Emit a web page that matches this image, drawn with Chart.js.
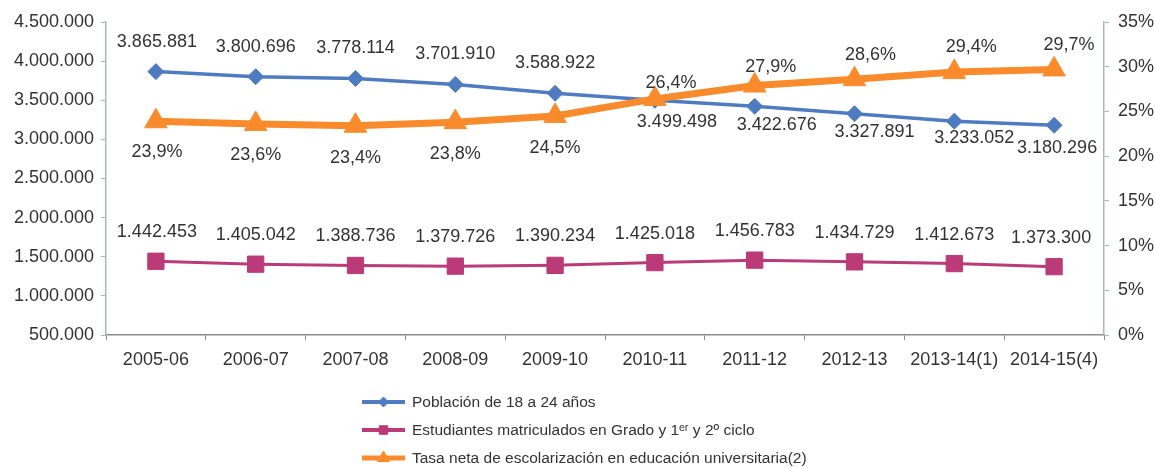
<!DOCTYPE html>
<html>
<head>
<meta charset="utf-8">
<script src="https://cdn.jsdelivr.net/npm/chart.js@4.4.0/dist/chart.umd.min.js"></script>
<style>
  html, body { margin: 0; padding: 0; background: #ffffff; }
  #wrap { width: 1155px; height: 468px; position: relative; }
</style>
</head>
<body>
<div id="wrap"><canvas id="c" width="1155" height="468"></canvas></div>
<script>
// ---- data ----
const categories = ['2005-06', '2006-07', '2007-08', '2008-09', '2009-10', '2010-11', '2011-12', '2012-13', '2013-14(1)', '2014-15(4)'];
const poblacion = [3865881, 3800696, 3778114, 3701910, 3588922, 3499498, 3422676, 3327891, 3233052, 3180296];
const estudiantes = [1442453, 1405042, 1388736, 1379726, 1390234, 1425018, 1456783, 1434729, 1412673, 1373300];
const tasa = [23.9, 23.6, 23.4, 23.8, 24.5, 26.4, 27.9, 28.6, 29.4, 29.7];
const seriesNames = ['Población de 18 a 24 años', 'Estudiantes matriculados en Grado y 1\u1d49\u02b3 y 2º ciclo', 'Tasa neta de escolarización en educación universitaria(2)'];
const leftTicks = [500000, 1000000, 1500000, 2000000, 2500000, 3000000, 3500000, 4000000, 4500000];
const rightTicks = [0, 5, 10, 15, 20, 25, 30, 35];

// ---- label placement (offsets from each point, px) ----
const labelOffsets = [
  [[1,-30],[0,-30],[0,-30],[0,-30],[0,-30],[22,22],[22,19],[20,18],[20,17],[3,23]],
  [[1,-29],[0,-29],[0,-29],[0,-29],[0,-29],[0,-29],[0,-29],[0,-29],[0,-29],[-3,-29]],
  [[1,31],[0,31],[0,32],[0,32],[0,32],[16,-16],[16,-18],[16,-24],[17,-25],[15,-24]]
];

const FONT = '"Liberation Sans", Arial, Helvetica, sans-serif';
const TEXT = '#333333';
const BLUE = '#4f7cc0', MAGENTA = '#bb3a78', ORANGE = '#f98b2c';

function fmtNum(v) { return String(Math.round(v)).replace(/\B(?=(\d{3})+(?!\d))/g, '.'); }
function fmtPct(v) { return v.toFixed(1).replace('.', ',') + '%'; }

const labelPlugin = {
  id: 'valueLabels',
  afterDatasetsDraw(chart) {
    const ctx = chart.ctx;
    ctx.save();
    ctx.font = '18px ' + FONT;
    ctx.fillStyle = TEXT;
    ctx.textAlign = 'center';
    ctx.textBaseline = 'middle';
    chart.data.datasets.forEach((ds, di) => {
      const meta = chart.getDatasetMeta(di);
      meta.data.forEach((pt, i) => {
        const v = ds.data[i];
        const txt = ds.yAxisID === 'y2' ? fmtPct(v) : fmtNum(v);
        const off = labelOffsets[di][i];
        ctx.fillText(txt, pt.x + off[0], pt.y + off[1]);
      });
    });
    ctx.restore();
  }
};

const legendPlugin = {
  id: 'vertLegend',
  afterDraw(chart) {
    const ctx = chart.ctx;
    const x0 = 362, x1 = 405, tx = 412;
    const rows = [402, 430, 458];
    const markerR = [5, 6, 7];
    ctx.save();
    chart.data.datasets.forEach((ds, di) => {
      const y = rows[di];
      ctx.strokeStyle = ds.borderColor;
      ctx.lineWidth = di === 2 ? 5 : 4;
      ctx.beginPath(); ctx.moveTo(x0, y); ctx.lineTo(x1, y); ctx.stroke();
      ctx.fillStyle = ds.backgroundColor;
      ctx.strokeStyle = ds.borderColor;
      ctx.lineWidth = 1;
      Chart.helpers.drawPoint(ctx, {
        pointStyle: ds.pointStyle,
        radius: markerR[di],
        borderWidth: 1,
        rotation: 0
      }, (x0 + x1) / 2, y);
      ctx.fillStyle = TEXT;
      ctx.font = '15.5px ' + FONT;
      ctx.textAlign = 'left';
      ctx.textBaseline = 'middle';
      ctx.fillText(ds.label, tx, y + 1);
    });
    ctx.restore();
  }
};

new Chart(document.getElementById('c'), {
  type: 'line',
  data: {
    labels: categories,
    datasets: [
      {
        label: seriesNames[0], data: poblacion, yAxisID: 'y', order: 1,
        borderColor: BLUE, backgroundColor: BLUE, borderWidth: 3.5,
        pointStyle: 'rectRot', pointRadius: 8, pointBorderWidth: 1,
        pointBackgroundColor: BLUE, pointBorderColor: BLUE, tension: 0
      },
      {
        label: seriesNames[1], data: estudiantes, yAxisID: 'y', order: 2,
        borderColor: MAGENTA, backgroundColor: MAGENTA, borderWidth: 3,
        pointStyle: 'rect', pointRadius: 11.5, pointBorderWidth: 1,
        pointBackgroundColor: MAGENTA, pointBorderColor: MAGENTA, tension: 0
      },
      {
        label: seriesNames[2], data: tasa, yAxisID: 'y2', order: 0,
        borderColor: ORANGE, backgroundColor: ORANGE, borderWidth: 7,
        pointStyle: 'triangle', pointRadius: 13, pointBorderWidth: 1,
        pointBackgroundColor: ORANGE, pointBorderColor: ORANGE, tension: 0
      }
    ]
  },
  options: {
    responsive: false,
    animation: false,
    devicePixelRatio: 1,
    layout: { padding: { top: 22, bottom: 93, left: 0, right: 0 } },
    plugins: { legend: { display: false }, tooltip: { enabled: false } },
    scales: {
      x: {
        type: 'category', offset: true,
        grid: { offset: true, drawOnChartArea: false, drawTicks: true, tickLength: 5, color: '#8c8c8c', lineWidth: 1 },
        border: { display: true, color: '#8c8c8c', width: 1.5 },
        ticks: { color: TEXT, font: { family: FONT, size: 18 }, padding: 9, maxRotation: 0, autoSkip: false },
        afterFit(s) { s.height = 40; }
      },
      y: {
        type: 'linear', position: 'left',
        min: leftTicks[0], max: leftTicks[leftTicks.length - 1],
        afterBuildTicks(s) { s.ticks = leftTicks.map(v => ({ value: v })); },
        grid: { drawOnChartArea: false, drawTicks: true, tickLength: 5, color: '#a7b9b5' },
        border: { display: true, color: '#a7b9b5', width: 1.5 },
        ticks: { color: TEXT, font: { family: FONT, size: 18 }, padding: 7, callback: v => fmtNum(v) },
        afterFit(s) { s.width = 106; }
      },
      y2: {
        type: 'linear', position: 'right',
        min: rightTicks[0], max: rightTicks[rightTicks.length - 1],
        afterBuildTicks(s) { s.ticks = rightTicks.map(v => ({ value: v })); },
        grid: { drawOnChartArea: false, drawTicks: true, tickLength: 5, color: '#a7b9b5' },
        border: { display: true, color: '#a7b9b5', width: 1.5 },
        ticks: { color: TEXT, font: { family: FONT, size: 18 }, padding: 9, callback: v => v + '%' },
        afterFit(s) { s.width = 51; }
      }
    }
  },
  plugins: [labelPlugin, legendPlugin]
});
</script>
</body>
</html>
